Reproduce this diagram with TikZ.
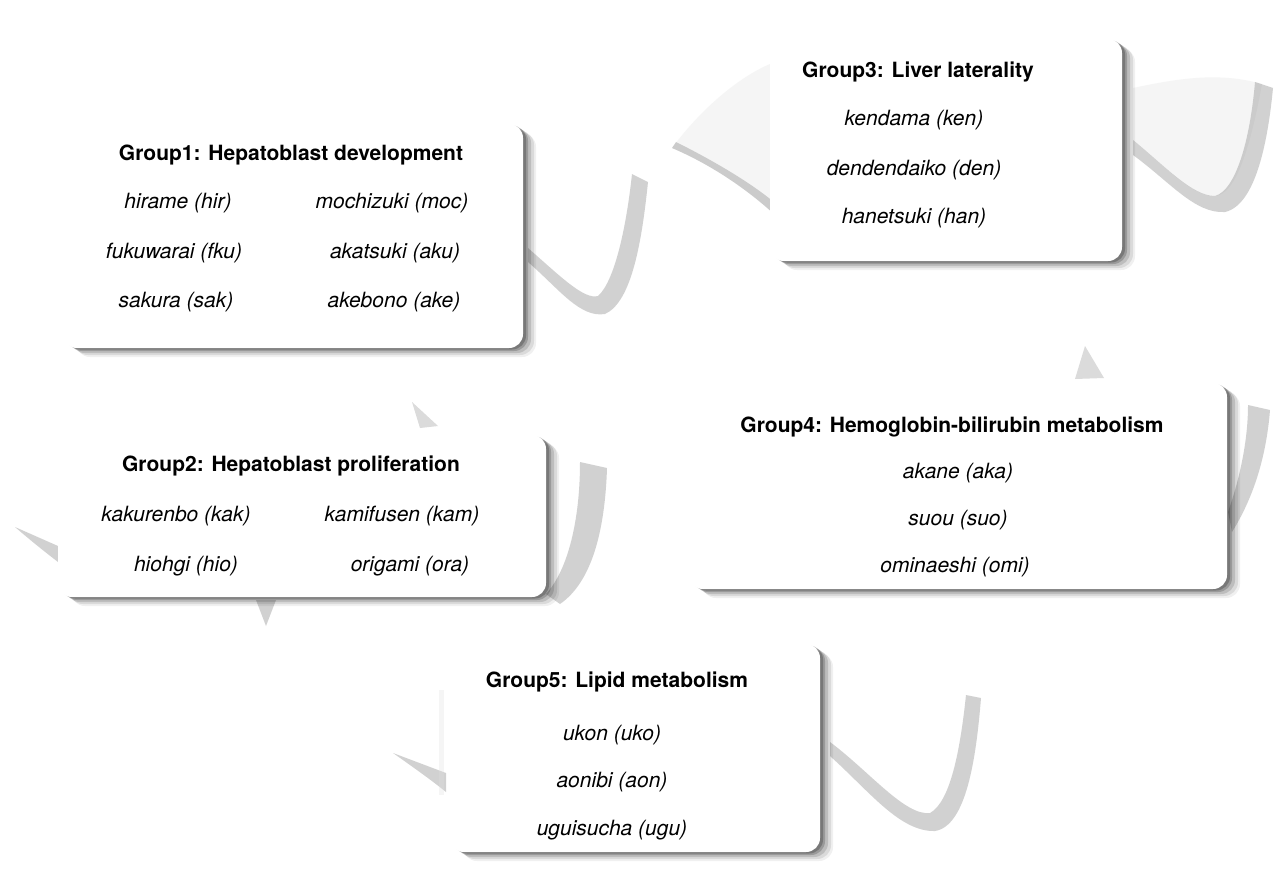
\documentclass[tikz,border=0pt]{standalone}
\usepackage{fontspec}
\setmainfont{TeX Gyre Heros}
\usetikzlibrary{shadows}
\begin{document}
\begin{tikzpicture}[x=1pt,y=-1pt,
  box/.style={draw=none, fill=white, rounded corners=14pt, inner sep=0pt,
    drop shadow={shadow xshift=13pt,shadow yshift=-9pt,opacity=.06,fill=black},
    drop shadow={shadow xshift=11pt,shadow yshift=-7pt,opacity=.09,fill=black},
    drop shadow={shadow xshift=8pt,shadow yshift=-5pt,opacity=.13,fill=black},
    drop shadow={shadow xshift=5pt,shadow yshift=-3pt,opacity=.18,fill=black},
    drop shadow={shadow xshift=3pt,shadow yshift=-1.5pt,opacity=.22,fill=black}},
  ttl/.style={font=\fontsize{21}{25}\selectfont\bfseries},
  itm/.style={font=\fontsize{21}{25}\selectfont\itshape},
  curl/.style={fill=black!55, fill opacity=.32, draw=none},
  sheet/.style={fill=black!12, fill opacity=.3, draw=none},
  spike/.style={fill=black!40, fill opacity=.35, draw=none}]
\fill[white] (0,0) rectangle (1277,876);
\useasboundingbox (0,0) rectangle (1277,876);

% background page-curl decorations
\fill[curl] (528,262) .. controls (560,290) and (580,318) .. (605,314) .. controls (632,302) and (642,240) .. (648,182) -- (632,174) .. controls (626,230) and (614,282) .. (598,296) .. controls (584,300) and (560,276) .. (528,248) -- cycle;
\fill[sheet] (1133,88) .. controls (1180,78) and (1220,72) .. (1262,84) .. controls (1250,150) and (1235,195) .. (1215,196) .. controls (1190,196) and (1165,165) .. (1133,140) -- cycle;
\fill[curl] (1133,155) .. controls (1170,182) and (1195,214) .. (1225,212) .. controls (1256,205) and (1268,140) .. (1273,88) -- (1255,82) .. controls (1250,140) and (1236,190) .. (1215,196) .. controls (1192,196) and (1165,166) .. (1133,140) -- cycle;
\fill[sheet] (775,62) .. controls (740,75) and (700,110) .. (672,148) .. controls (712,165) and (748,190) .. (775,215) -- cycle;
\fill[curl] (672,148) .. controls (712,165) and (748,190) .. (775,215) -- (775,203) .. controls (750,182) and (712,160) .. (676,142) -- cycle;
\fill[curl] (580,462) -- (607,468) .. controls (605,530) and (592,582) .. (560,604) -- (546,594) .. controls (568,570) and (580,520) .. (580,462) -- cycle;
\fill[curl] (1248,405) -- (1270,410) .. controls (1266,460) and (1252,500) .. (1232,532) -- (1228,512) .. controls (1240,478) and (1248,440) .. (1248,405) -- cycle;
\fill[curl] (830,756) .. controls (870,792) and (900,832) .. (935,831) .. controls (966,826) and (976,760) .. (981,698) -- (966,695) .. controls (960,752) and (950,802) .. (930,813) .. controls (905,816) and (870,772) .. (830,742) -- cycle;
\fill[curl] (15,527) -- (58,546) -- (58,562) .. controls (45,552) and (30,540) .. (15,527) -- cycle;
\fill[curl] (393,753) -- (446,773) -- (446,792) .. controls (430,779) and (410,765) .. (393,753) -- cycle;
\fill[sheet] (439,690) rectangle (444,795);
\fill[spike] (412,402) -- (438,426) -- (420,428) -- cycle;
\fill[spike] (1085,346) -- (1104,378) -- (1075,379) -- cycle;
\fill[curl] (256,600) -- (276,600) -- (266,626) -- cycle;

% boxes
\node[box, minimum width=460pt, minimum height=224pt] (b1) at (293,236) {};
\node[box, minimum width=488pt, minimum height=162pt] (b2) at (302,516) {};
\node[box, minimum width=352pt, minimum height=222pt] (b3) at (946,150) {};
\node[box, minimum width=538pt, minimum height=206pt] (b4) at (958,486) {};
\node[box, minimum width=370pt, minimum height=208pt] (b5) at (635,748) {};

% group 1
\node[ttl] (t1) at (291,155) {Group1: Hepatoblast development};
\node[itm] (g1a) at (178,203) {hirame (hir)};
\node[itm] (g1b) at (392,203) {mochizuki (moc)};
\node[itm] (g1c) at (174,253) {fukuwarai (fku)};
\node[itm] (g1d) at (395,253) {akatsuki (aku)};
\node[itm] (g1e) at (176,302) {sakura (sak)};
\node[itm] (g1f) at (394,302) {akebono (ake)};

% group 2
\node[ttl] (t2) at (291,466) {Group2: Hepatoblast proliferation};
\node[itm] (g2a) at (176,516) {kakurenbo (kak)};
\node[itm] (g2b) at (402,516) {kamifusen (kam)};
\node[itm] (g2c) at (186,566) {hiohgi (hio)};
\node[itm] (g2d) at (410,566) {origami (ora)};

% group 3
\node[ttl] (t3) at (918,72) {Group3: Liver laterality};
\node[itm] (g3a) at (914,120) {kendama (ken)};
\node[itm] (g3b) at (914,170) {dendendaiko (den)};
\node[itm] (g3c) at (914,218) {hanetsuki (han)};

% group 4
\node[ttl] (t4) at (952,427) {Group4: Hemoglobin-bilirubin metabolism};
\node[itm] (g4a) at (958,473) {akane (aka)};
\node[itm] (g4b) at (958,520) {suou (suo)};
\node[itm] (g4c) at (955,567) {ominaeshi (omi)};

% group 5
\node[ttl] (t5) at (617,682) {Group5: Lipid metabolism};
\node[itm] (g5a) at (612,735) {ukon (uko)};
\node[itm] (g5b) at (612,782) {aonibi (aon)};
\node[itm] (g5c) at (612,830) {uguisucha (ugu)};
\end{tikzpicture}
\end{document}
